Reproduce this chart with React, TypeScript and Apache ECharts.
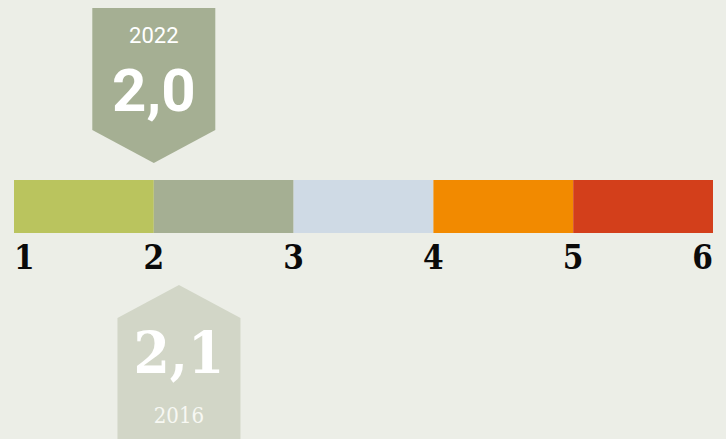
import React, { useEffect, useRef } from "react";
import * as echarts from "echarts";

// Scale segments (grade bands) and their colours
const segmentStarts = [1, 2, 3, 4, 5];
const segmentEnds = [2, 3, 4, 5, 6];
const segmentColors = ["#BAC45E", "#A5AF93", "#CFDAE5", "#F28A00", "#D33F1B"];
const tickValues = [1, 2, 3, 4, 5, 6];

// Markers
const markerYears = ["2022", "2016"];
const markerValues = [2.0, 2.1];
const markerLabels = ["2,0", "2,1"];
const markerPositions = [2.0, 2.18];

const BG = "#ECEEE7";

export default function App() {
  const ref = useRef<HTMLDivElement>(null);
  useEffect(() => {
    document.body.style.margin = "0";
    document.body.style.background = BG;
    const chart = echarts.init(ref.current!, null, { renderer: "svg" });
    const segData = segmentStarts.map((s, i) => [s, segmentEnds[i], i]);
    const markerData = markerPositions.map((p, i) => [p, markerValues[i], i]);
    chart.setOption({
      animation: false,
      backgroundColor: BG,
      grid: { left: 14, right: 13, top: 180, height: 53 },
      xAxis: {
        type: "value",
        min: 1,
        max: 6,
        interval: 1,
        axisLine: { show: false },
        axisTick: { show: false },
        splitLine: { show: false },
        axisLabel: {
          margin: 8,
          fontSize: 33,
          fontWeight: "bold",
          color: "#0A0A0A",
          fontFamily: "'DejaVu Serif Condensed', 'DejaVu Serif', serif",
          alignMinLabel: "left",
          alignMaxLabel: "right",
        },
      },
      yAxis: { type: "value", min: 0, max: 1, show: false },
      series: [
        {
          type: "custom",
          data: segData,
          renderItem: (params: any, api: any) => {
            const a = api.coord([api.value(0), 1]);
            const b = api.coord([api.value(1), 0]);
            return {
              type: "rect",
              shape: { x: a[0], y: a[1], width: b[0] - a[0], height: b[1] - a[1] },
              style: { fill: segmentColors[api.value(2)] },
            };
          },
        },
        {
          type: "custom",
          data: markerData,
          clip: false,
          renderItem: (params: any, api: any) => {
            const i = api.value(2);
            const cx = api.coord([api.value(0), 0])[0];
            const hw = 61.5;
            if (i === 0) {
              return {
                type: "group",
                children: [
                  {
                    type: "polygon",
                    shape: {
                      points: [
                        [cx - hw, 8],
                        [cx + hw, 8],
                        [cx + hw, 130],
                        [cx, 163],
                        [cx - hw, 130],
                      ],
                    },
                    style: { fill: "#A5AF93" },
                  },
                  {
                    type: "text",
                    style: {
                      text: markerYears[i],
                      x: cx,
                      y: 35,
                      align: "center",
                      verticalAlign: "middle",
                      fill: "#FFFFFF",
                      font: "22px Roboto",
                    },
                  },
                  {
                    type: "text",
                    style: {
                      text: markerLabels[i],
                      x: cx,
                      y: 90,
                      align: "center",
                      verticalAlign: "middle",
                      fill: "#FFFFFF",
                      font: "bold 60px Roboto",
                    },
                  },
                ],
              };
            }
            return {
              type: "group",
              children: [
                {
                  type: "polygon",
                  shape: {
                    points: [
                      [cx, 285],
                      [cx + hw, 318],
                      [cx + hw, 445],
                      [cx - hw, 445],
                      [cx - hw, 318],
                    ],
                  },
                  style: { fill: "#D2D6C7" },
                },
                {
                  type: "text",
                  style: {
                    text: markerLabels[i],
                    x: cx,
                    y: 353,
                    align: "center",
                    verticalAlign: "middle",
                    fill: "#FFFFFF",
                    font: "bold 58px 'DejaVu Serif Condensed', 'DejaVu Serif', serif",
                  },
                },
                {
                  type: "text",
                  style: {
                    text: markerYears[i],
                    x: cx,
                    y: 415,
                    align: "center",
                    verticalAlign: "middle",
                    fill: "#F7F8F3",
                    font: "22px 'DejaVu Serif Condensed', 'DejaVu Serif', serif",
                  },
                },
              ],
            };
          },
        },
      ],
    });
    return () => chart.dispose();
  }, []);
  return <div ref={ref} style={{ width: 726, height: 439 }} />;
}
